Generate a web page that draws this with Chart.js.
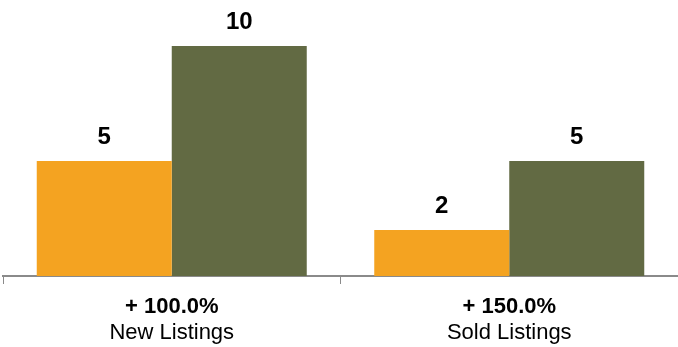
<html lang="en">
<head>
  <meta charset="utf-8">
  <title>Listings Chart</title>
  <script src="https://cdn.jsdelivr.net/npm/chart.js@4.4.1/dist/chart.umd.min.js"></script>
  <style>
    body { margin: 0; background: #fff; }
  </style>
</head>
<body>
<canvas id="bar" width="678" height="347"></canvas>

<script>
// chart data
var categories = ['New Listings', 'Sold Listings'];
var changeLabels = ['+ 100.0%', '+ 150.0%'];
var priorValues = [5, 2];
var currentValues = [10, 5];

var FONT = '"Liberation Sans", Arial, Helvetica, sans-serif';

// draws value labels above bars and the bold change line under the axis
var labelPlugin = {
    id: 'labels',
    afterDatasetsDraw: function(chart) {
        var ctx = chart.ctx;
        ctx.save();
        ctx.fillStyle = '#000';
        ctx.textAlign = 'center';
        ctx.textBaseline = 'alphabetic';
        ctx.font = 'bold 24px ' + FONT;
        chart.data.datasets.forEach(function(ds, i) {
            chart.getDatasetMeta(i).data.forEach(function(bar, j) {
                ctx.fillText(ds.data[j], bar.x, bar.y - 17);
            });
        });
        var xScale = chart.scales.x;
        var bottom = chart.chartArea.bottom;
        categories.forEach(function(name, j) {
            var x = xScale.getPixelForValue(j);
            ctx.font = 'bold 22px ' + FONT;
            ctx.fillText(changeLabels[j], x, bottom + 37);
            ctx.font = '22px ' + FONT;
            ctx.fillText(name, x, bottom + 63);
        });
        ctx.restore();
    }
};

var ctx = document.getElementById('bar').getContext('2d');
var chart = new Chart(ctx, {
    type: 'bar',
    data: {
        labels: categories,
        datasets: [{
            label: 'Prior',
            data: priorValues,
            backgroundColor: '#f4a321'
        }, {
            label: 'Current',
            data: currentValues,
            backgroundColor: '#626a43'
        }]
    },
    plugins: [labelPlugin],
    options: {
        responsive: false,
        animation: false,
        layout: { padding: { left: 3, right: 0, top: 0, bottom: 63 } },
        plugins: {
            legend: { display: false },
            tooltip: { enabled: false }
        },
        datasets: {
            bar: { categoryPercentage: 0.8, barPercentage: 1.0 }
        },
        scales: {
            x: {
                grid: {
                    drawOnChartArea: false,
                    drawTicks: true,
                    tickLength: 8,
                    color: '#8a8a8a',
                    lineWidth: 1
                },
                border: { display: true, color: '#8a8a8a', width: 2 },
                ticks: { display: false }
            },
            y: {
                display: false,
                min: 0,
                max: 12
            }
        }
    }
});
</script>
</body>
</html>
